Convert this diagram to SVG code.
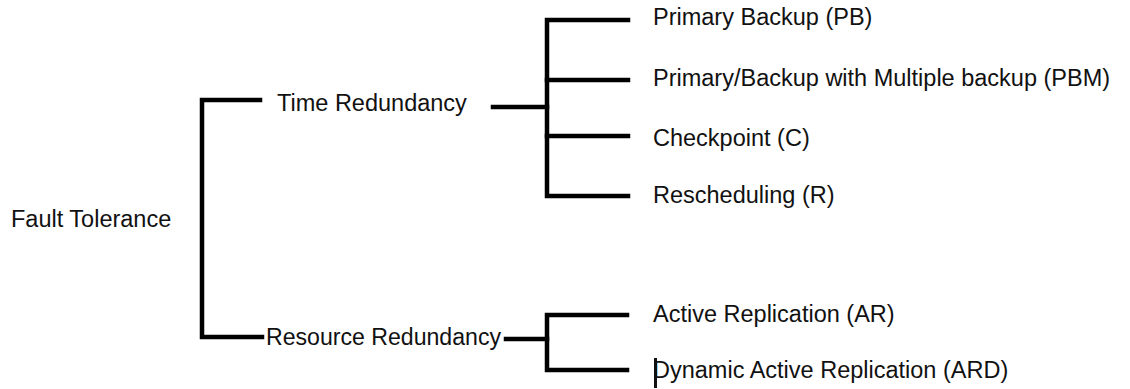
<svg xmlns="http://www.w3.org/2000/svg" width="1130" height="389" viewBox="0 0 1130 389">
  <style>
    .bg { fill: #ffffff; }
    .wire { fill: none; stroke: #000000; stroke-width: 4.5; stroke-linecap: square; stroke-linejoin: miter; }
    .label { font-family: "Liberation Sans", Arial, sans-serif; font-size: 23.5px; fill: #111111; }
    .caret { fill: #111111; }
  </style>
  <rect class="bg" x="0" y="0" width="1130" height="389"/>

  <!-- tree connectors -->
  <g id="connectors">
    <!-- root bracket -->
    <path class="wire" d="M260,100 H202 V337 H262"/>
    <!-- Time Redundancy branch -->
    <path class="wire" d="M493,107 H547"/>
    <path class="wire" d="M628,20 H547 V196 H628"/>
    <path class="wire" d="M547,80 H628"/>
    <path class="wire" d="M547,136 H628"/>
    <!-- Resource Redundancy branch -->
    <path class="wire" d="M506,339 H547"/>
    <path class="wire" d="M627,315 H547 V370 H627"/>
  </g>

  <g id="fault-tolerance">
    <text class="label" x="11" y="227">Fault Tolerance</text>
  </g>

  <g id="time-redundancy">
    <text class="label" x="277" y="111">Time Redundancy</text>
  </g>

  <g id="resource-redundancy">
    <text class="label" x="266" y="345" textLength="235" lengthAdjust="spacingAndGlyphs">Resource Redundancy</text>
  </g>

  <g id="primary-backup">
    <text class="label" x="653" y="25">Primary Backup (PB)</text>
  </g>

  <g id="primary-backup-multiple">
    <text class="label" x="653" y="86">Primary/Backup with Multiple backup (PBM)</text>
  </g>

  <g id="checkpoint">
    <text class="label" x="653" y="146">Checkpoint (C)</text>
  </g>

  <g id="rescheduling">
    <text class="label" x="653" y="203">Rescheduling (R)</text>
  </g>

  <g id="active-replication">
    <text class="label" x="653" y="322">Active Replication (AR)</text>
  </g>

  <g id="dynamic-active-replication">
    <rect class="caret" x="654" y="358" width="3" height="30"/>
    <text class="label" x="653" y="378">Dynamic Active Replication (ARD)</text>
  </g>
</svg>
